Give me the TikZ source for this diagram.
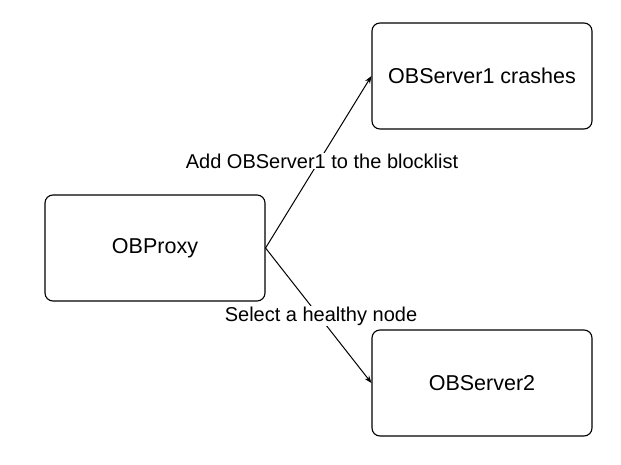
\documentclass[tikz,border=0pt]{standalone}
\usepackage{fontspec}
\setmainfont{Liberation Sans}
\usetikzlibrary{arrows.meta,positioning}

\begin{document}
\begin{tikzpicture}[
  x=1pt, y=-1pt,
  >=Stealth,
  box/.style={
    rectangle,
    rounded corners=8pt,
    draw,
    line width=1.1pt,
    minimum width=220pt,
    minimum height=106pt,
    font=\fontsize{21.5}{25}\selectfont
  },
  label/.style={font=\fontsize{20}{24}\selectfont, fill=white, inner sep=1pt}
]
\useasboundingbox (0,0) rectangle (621,465);

\node[box] (proxy) at (155,248) {OBProxy};
\node[box] (srv1) at (482,76) {OBServer1 crashes};
\node[box] (srv2) at (482,383) {OBServer2};

% Arrows
\draw[->, line width=1pt] (proxy.east) -- (srv1.west);
\draw[->, line width=1pt] (proxy.east) -- (srv2.west);

\node[label] (blk) at (322,161) {Add OBServer1 to the blocklist};
\node[label] (sel) at (321,316) {Select a healthy node};

\end{tikzpicture}
\end{document}
